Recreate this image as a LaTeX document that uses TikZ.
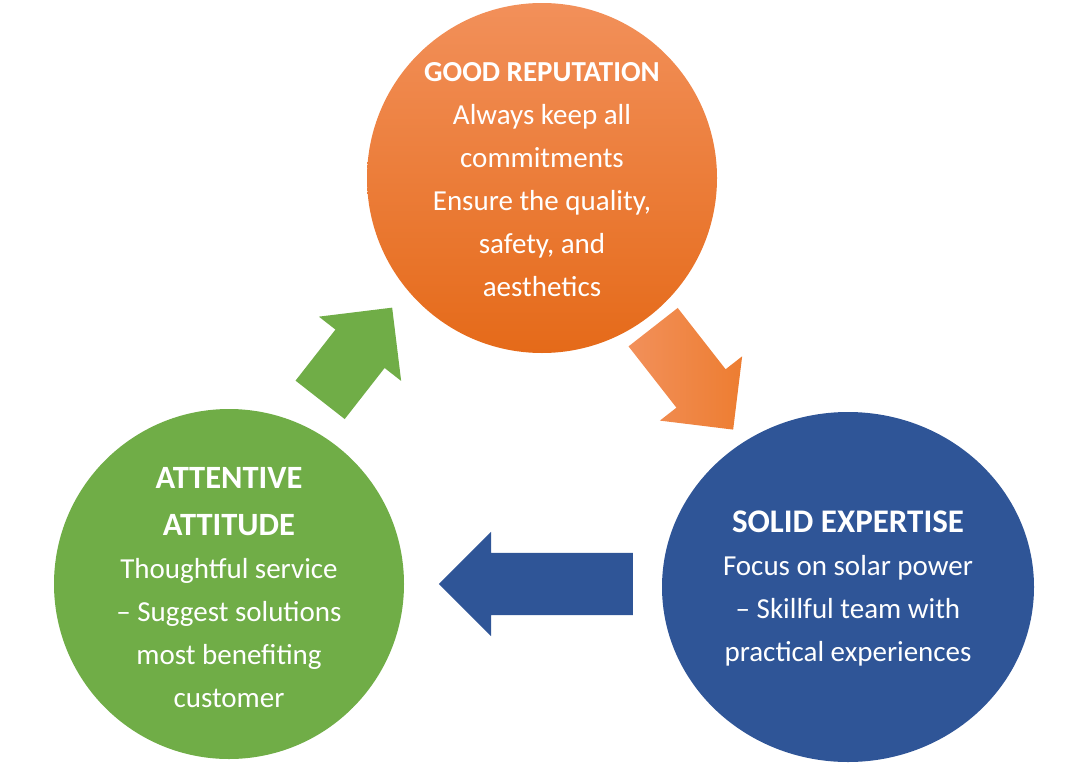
\documentclass[tikz,border=0pt]{standalone}
\usepackage{fontspec}
\setmainfont{Carlito}
\usetikzlibrary{positioning,shapes.geometric,shapes.arrows}
\definecolor{RepOrange}{HTML}{ED7D31}
\definecolor{RepOrangeLight}{HTML}{F2905A}
\definecolor{RepOrangeDark}{HTML}{E56A19}
\definecolor{ExpBlue}{HTML}{2F5597}
\definecolor{AttGreen}{HTML}{70AD47}

\begin{document}
\begin{tikzpicture}[x=1pt,y=-1pt]
  \tikzstyle{valuebox}=[circle,draw=none,inner sep=0pt,minimum size=350pt]
  \tikzstyle{valuetext}=[text=white,align=center,font=\fontsize{29}{43}\selectfont]
  \tikzstyle{flowarrow}=[single arrow,draw=none,inner xsep=0pt,inner ysep=31pt,
    single arrow head extend=21pt,anchor=tail]
  \useasboundingbox (0,0) rectangle (1081,763);
  \node[valuebox,top color=RepOrangeLight,bottom color=RepOrangeDark] (reputation) at (542,178) {};
  \node[valuebox,ellipse,minimum width=372pt,minimum height=350pt,fill=ExpBlue] (expertise) at (848,587) {};
  \node[valuebox,fill=AttGreen] (attitude) at (229,584) {};
  \node[valuetext] (reputationText) at ([yshift=-2pt]reputation.center)
    {{\bfseries\fontsize{29}{43}\selectfont GOOD REPUTATION}\\Always keep all\\commitments\\
     Ensure the quality,\\safety, and\\aesthetics};
  \node[valuetext] (expertiseText) at ([yshift=-2pt]expertise.center)
    {{\bfseries\fontsize{33}{43}\selectfont SOLID EXPERTISE}\\Focus on solar power\\
     -- Skillful team with\\practical experiences};
  \node[valuetext] (attitudeText) at ([yshift=-4pt]attitude.center)
    {{\bfseries\fontsize{32.5}{43}\selectfont ATTENTIVE}\\[4pt]{\bfseries\fontsize{32.5}{43}\selectfont ATTITUDE}\\
     Thoughtful service\\-- Suggest solutions\\most benefiting\\customer};
  % block arrows between the circles
  \node[flowarrow,fill=AttGreen,minimum height=117pt,rotate=52] (toReputation) at (320,400) {};
  \node[flowarrow,left color=RepOrangeLight,right color=RepOrange,minimum height=130pt,rotate=-52]
    (toExpertise) at (653,327) {};
  \node[flowarrow,fill=ExpBlue,minimum height=194pt,rotate=180] (toAttitude) at (633,584) {};
\end{tikzpicture}
\end{document}
